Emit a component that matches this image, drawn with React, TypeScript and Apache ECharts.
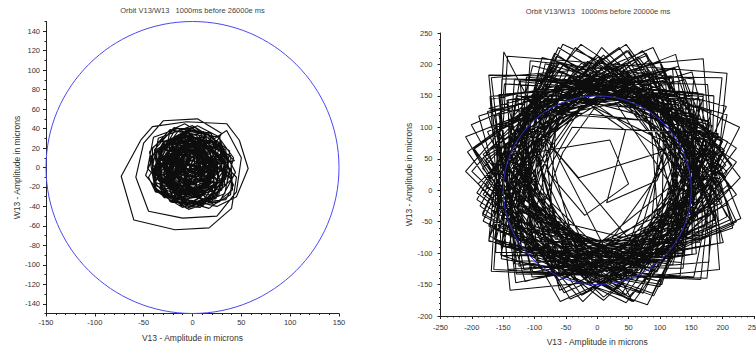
import React, { useEffect, useRef } from "react";
import * as echarts from "echarts";

const FONT = "'Liberation Sans', Arial, sans-serif";

const leftTitle = "Orbit V13/W13   1000ms before 26000e ms";
const rightTitle = "Orbit V13/W13   1000ms before 20000e ms";
const xName = "V13 - Amplitude in microns";
const yName = "W13 - Amplitude in microns";

// reference circle radius (microns), centred on the origin
const circleRadius = 150;

// W13 tick labels of the left plot (every 20) and its minor ticks in between
const leftYLabels = [-140, -120, -100, -80, -60, -40, -20, 0, 20, 40, 60, 80, 100, 120, 140];
const leftYMinor = [-150, -130, -110, -90, -70, -50, -30, -10, 10, 30, 50, 70, 90, 110, 130, 150];

// orbit samples V13/W13 (microns), 1000 ms before 26000e ms
const orbitEarly: number[][] = [
  [25, 0], [16, 19], [-9, 24], [-26, 10], [-23, -19], [0, -27], [22, -13], [21, 7], [4, 24], [-17, 20], [-29, -5], [-14, -24], [13, -22], [24, -4],
  [13, 27], [-10, 34], [-35, 16], [-31, -10], [-5, -27], [18, -14], [21, 15], [4, 29], [-20, 23], [-30, 5], [-18, -18], [3, -18], [17, 1], [10, 18],
  [-11, 15], [-25, 7], [-27, -14], [-12, -28], [11, -19], [21, 2], [2, 25], [-24, 25], [-38, -3], [-28, -28], [2, -31], [22, -14], [15, 16], [-8, 25],
  [-24, 10], [-28, -16], [-4, -38], [24, -32], [34, 1], [17, 21], [-12, 19], [-27, 0], [-16, -27], [6, -30], [28, -15], [24, 8], [2, 17], [-13, 8],
  [-17, -5], [-8, -13], [5, -9], [9, 0], [4, 11], [-8, 13], [-18, 3], [-15, -10], [0, -15], [11, -8], [10, 8], [-1, 14], [-13, 8], [-15, -2],
  [-5, -21], [20, -21], [37, 5], [27, 31], [-7, 38], [-26, 16], [-20, -15], [5, -25], [34, -12], [38, 17], [11, 37], [-14, 28], [-23, 0], [-8, -18],
  [3, -30], [18, -13], [9, 15], [-15, 24], [-38, 2], [-38, -24], [-10, -41], [13, -27], [18, 2], [0, 18], [-27, 12], [-35, -8], [-24, -31], [0, -34],
  [25, -40], [45, -30], [57, -1], [48, 28], [35, 45], [-6, 47], [-41, 42], [-53, 28], [-73, -9], [-60, -54], [-18, -64], [17, -62], [40, -42], [45, -10],
  [21, 15], [0, 29], [-30, 21], [-36, -5], [-15, -28], [10, -26], [25, 0], [13, 22], [-14, 25], [-31, 10], [-27, -19], [-5, -30], [19, -14], [19, 9],
  [3, 23], [-13, 18], [-21, -1], [-11, -16], [10, -14], [20, 0], [12, 18], [-3, 21], [-18, 9], [-17, -7], [0, -18], [15, -10], [18, 9], [7, 22],
  [-24, 24], [-40, -3], [-20, -34], [11, -39], [35, -9], [29, 23], [-8, 34], [-34, 16], [-33, -21], [-8, -40], [26, -26], [35, 3], [10, 31], [-19, 27],
  [-23, 2], [-18, -10], [-3, -12], [7, -3], [4, 12], [-8, 16], [-21, 10], [-23, -3], [-11, -15], [4, -12], [9, 5], [0, 16], [-16, 15], [-22, 4],
  [-15, -30], [8, -38], [33, -19], [32, 9], [3, 26], [-22, 13], [-25, -18], [-8, -38], [22, -31], [35, -8], [18, 18], [-7, 18], [-27, -3], [-18, -26],
  [-1, -24], [22, -10], [24, 24], [0, 43], [-35, 30], [-41, 0], [-18, -26], [10, -22], [28, 6], [17, 34], [-19, 41], [-39, 18], [-31, -15], [-6, -24],
  [17, -12], [21, 5], [4, 21], [-15, 16], [-25, -6], [-12, -23], [11, -21], [22, -6], [13, 13], [-3, 16], [-17, 4], [-14, -10], [0, -17], [11, -11],
  [11, 14], [-3, 29], [-30, 26], [-42, 5], [-26, -19], [-3, -19], [13, 1], [6, 20], [-16, 31], [-36, 19], [-38, -10], [-17, -25], [9, -13], [14, 10],
  [30, 35], [5, 50], [-30, 48], [-50, 25], [-58, -10], [-45, -45], [-10, -52], [25, -50], [45, -25], [50, 10], [35, 38],
  [14, 24], [-10, 28], [-30, 5], [-21, -18], [5, -30], [26, -15], [24, 14], [5, 26], [-19, 16], [-24, -4], [-8, -23], [11, -19], [20, 0], [13, 15],
  [-11, 35], [-42, 12], [-39, -22], [-4, -40], [27, -28], [34, 12], [10, 36], [-28, 27], [-40, -2], [-23, -35], [9, -38], [35, -9], [27, 24], [-10, 34],
  [-19, 14], [-21, -15], [0, -30], [30, -21], [37, 6], [20, 26], [-9, 24], [-21, 5], [-12, -20], [10, -27], [31, -10], [28, 13], [9, 25], [-13, 15],
  [-40, -1], [-21, -26], [7, -25], [25, 4], [13, 32], [-23, 39], [-44, 16], [-37, -19], [-10, -30], [19, -13], [21, 15], [-4, 36], [-29, 27], [-38, -1],
  [-5, -28], [18, -34], [40, -12], [33, 15], [2, 28], [-21, 11], [-20, -22], [2, -39], [33, -27], [38, -1], [18, 20], [-6, 17], [-18, -6], [-8, -25],
  [-1, -11], [11, -2], [11, 11], [-3, 20], [-17, 15], [-20, -3], [-9, -13], [7, -9], [12, 3], [6, 14], [-7, 15], [-14, 7], [-11, -4], [-3, -7],
  [20, -25], [24, 1], [0, 23], [-27, 15], [-38, -16], [-21, -36], [9, -36], [25, -15], [13, 13], [-11, 18], [-32, 0], [-32, -25], [-6, -42], [20, -32],
  [32, 13], [18, 36], [-15, 37], [-32, 14], [-19, -17], [7, -22], [30, -2], [30, 24], [2, 42], [-23, 29], [-26, -2], [-8, -18], [19, -12], [27, 8],
  [8, 13], [-9, 16], [-24, 0], [-20, -19], [2, -28], [19, -16], [18, 8], [2, 18], [-19, 10], [-23, -8], [-9, -23], [8, -21], [17, -4], [10, 10],
  [-23, 28], [-44, 10], [-38, -24], [-12, -37], [17, -19], [19, 9], [-6, 32], [-35, 26], [-48, -8], [-29, -31], [4, -30], [18, -7], [7, 21], [-17, 26],
  [-14, 18], [-14, -10], [5, -26], [35, -17], [42, 10], [26, 32], [-5, 30], [-18, 9], [-8, -17], [15, -26], [38, -6], [34, 18], [15, 31], [-10, 21],
  [0, -5], [-7, 9], [-21, 11], [-33, -2], [-29, -17], [-12, -22], [-1, -13], [-2, 3], [-13, 9], [-26, 4], [-30, -8], [-21, -20], [-7, -19], [-1, -5],
  [24, 2], [6, 6], [-7, -5], [-3, -25], [12, -33], [30, -23], [33, -5], [16, 9], [-1, 3], [-7, -15], [3, -28], [21, -28], [29, -15], [22, 0],
  [-11, 33], [-26, 22], [-25, 5], [-8, -5], [7, 2], [10, 22], [-2, 32], [-19, 28], [-24, 15], [-16, 2], [-3, 2], [6, 13], [2, 23], [-10, 27],
  [-8, 18], [-9, 2], [2, -7], [19, -2], [24, 13], [15, 27], [-5, 27], [-14, 13], [-7, -4], [8, -7], [20, 5], [18, 18], [5, 24], [-5, 18],
  [-22, -21], [-12, -33], [8, -30], [16, -15], [5, 2], [-12, 3], [-25, -12], [-21, -29], [-1, -37], [14, -26], [12, -5], [-2, 3], [-18, -4], [-21, -18],
  [-3, -9], [5, -9], [9, 0], [5, 6], [-3, 8], [-7, 2], [-5, -4], [0, -6], [5, -3], [7, 2], [1, 8], [-6, 7], [-10, -2], [-6, -10],
  [-12, -6], [-3, 5], [-8, 22], [-23, 27], [-39, 15], [-36, -2], [-20, -10], [-7, -3], [-5, 14], [-15, 22], [-30, 20], [-34, 8], [-27, -4], [-16, -4],
  [34, 5], [31, 19], [15, 26], [2, 17], [2, -1], [15, -9], [31, -3], [34, 11], [23, 22], [10, 21], [4, 8], [9, -3], [23, -5], [30, 4],
  [43, 7], [16, 31], [-19, 19], [-27, -12], [-2, -39], [28, -35], [44, -5], [28, 26], [-3, 31], [-29, 2], [-21, -31], [17, -42], [41, -23], [39, 12],
  [-15, 40], [-40, 31], [-46, -1], [-27, -22], [6, -15], [17, 10], [4, 33], [-20, 38], [-41, 20], [-41, -5], [-20, -20], [6, -8], [9, 19], [-6, 34],
  [-14, -1], [-24, -18], [-12, -39], [8, -41], [25, -22], [18, -3], [-4, 4], [-19, -7], [-21, -30], [-4, -43], [20, -35], [26, -13], [8, 5], [-11, 1],
  [-19, 22], [-10, 0], [9, -7], [29, 9], [28, 31], [5, 43], [-14, 34], [-18, 10], [-3, -3], [19, 1], [27, 18], [19, 35], [-3, 39], [-14, 25],
  [-41, -19], [-28, -28], [-10, -22], [-5, -7], [-18, 9], [-35, 7], [-45, -10], [-38, -25], [-18, -29], [-7, -17], [-11, 2], [-25, 7], [-39, -2], [-39, -15],
  [16, -35], [34, -33], [42, -18], [35, -3], [15, 1], [3, -11], [7, -31], [22, -38], [39, -28], [40, -12], [25, 0], [11, -5], [6, -21], [14, -32],
  [-20, 10], [15, -5], [-10, -15], [5, 18], [12, -15], [-18, -2], [8, 12], [-5, -20], [-12, 15], [18, 3], [-15, -10], [2, 20], [10, -10], [-20, 5],
  [-5, 7], [8, 16], [9, 35], [-8, 45], [-23, 38], [-27, 18], [-15, 7], [4, 11], [10, 28], [1, 40], [-17, 40], [-24, 28], [-18, 14], [-3, 12],
];

// orbit samples V13/W13 (microns), 1000 ms before 20000e ms
const orbitLate: number[][] = [
  [147, 61], [-60, 202], [-210, 30], [-30, -148], [149, -2], [2, 212], [-207, 61], [-61, -143], [139, -32],
  [120, 194], [-107, 91], [1, -132], [216, -60], [151, 188], [-92, 118], [-27, -121], [196, -84], [176, 168],
  [-123, 176], [-104, -82], [131, -78], [154, 177], [-107, 206], [-127, -59], [105, -96], [169, 149],
  [-85, 168], [-154, -103], [80, -182], [203, 63], [-55, 188], [-171, -73], [46, -179], [207, 29],
  [7, 227], [-142, 8], [40, -140], [215, 40], [72, 222], [-147, 73], [-23, -134], [209, -22], [100, 205],
  [-189, 118], [-115, -145], [140, -73], [80, 193], [-169, 145], [-142, -126], [129, -105], [109, 173], [-152, 177], [-162, -99],
  [136, -101], [153, 128], [-76, 151], [-109, -55], [113, -118], [177, 110], [-53, 168], [-120, -30], [86, -130], [180, 80],
  [-62, 227], [-183, -40], [45, -167], [222, 67], [-26, 232], [-200, 30], [10, -170], [222, -7], [46, 232], [-197, 67], [-25, -167], [207, -42], [78, 218],
  [-136, 105], [-68, -137], [158, -101], [139, 157], [-118, 131], [-94, -121], [137, -124], [162, 134], [-96, 153], [-114, -98],
  [-55, 60], [-5, 130], [45, 95], [15, -20], [95, 15], [120, 75], [100, 60], [-30, 20], [-90, 90],
  [88, -122], [156, 120], [-88, 182], [-147, -55], [60, -135], [169, 92], [-63, 204], [-169, -32], [30, -137], [182, 62],
  [19, 197], [-132, -12], [50, -170], [228, 20], [83, 207], [-132, 52], [-12, -149], [229, -45], [140, 176], [-110, 113],
  [-125, -121], [99, -78], [81, 173], [-171, 149], [-152, -104], [81, -103], [107, 154], [-148, 169], [-173, -81], [54, -119], [125, 128],
  [-73, 179], [-140, -85], [88, -164], [208, 77], [-43, 198], [-158, -57], [58, -177], [222, 45], [-9, 202], [-162, -23],
  [15, -135], [195, 40], [47, 222], [-162, 71], [-45, -125], [184, -22], [78, 214], [-141, 130], [-78, -120], [153, -76],
  [129, 173], [-157, 152], [-129, -133], [132, -137], [161, 155], [-132, 177], [-153, -109], [100, -153], [182, 125], [-103, 198], [-173, -80], [67, -163], [193, 90],
  [-40, 100], [-80, 30], [-20, -40], [50, 10], [20, 80], [-100, 60],
  [-125, -23], [65, -137], [202, 65], [5, 207], [-135, 35], [35, -140], [212, 4], [65, 207], [-132, 65], [-25, -130], [191, -55],
  [83, 190], [-175, 125], [-103, -130], [136, -92], [115, 179], [-156, 152], [-129, -112], [112, -116], [139, 155], [-132, 176], [-152, -89], [85, -135],
  [206, 133], [-88, 211], [-162, -80], [90, -168], [227, 100], [-55, 232], [-182, -49], [56, -177],
  [-149, 220], [-169, -129], [175, -140], [207, 186], [-143, 213], [-165, -126], [165, -142], [199, 179], [-173, 183], [-139, -159], [195, -126], [169, 209], [-169, 179], [-130, -147],
  [201, -83], [125, 216], [-210, 85], [-59, -177], [222, -50], [89, 227], [-201, 104], [-53, -163], [212, -47], [50, 222], [-177, 59], [-18, -162], [202, -8], [46, 202],
  [165, 30], [10, 180], [-143, 57], [-16, -118], [156, -23], [65, 180], [-124, 108], [-65, -100], [129, -70], [113, 153], [-90, 149], [-105, -66], [85, -100], [144, 108], [-45, 180], [-136, -23], [36, -118], [163, 57],
  [25, 185], [-147, 45], [-5, -152], [189, -45], [87, 184], [-139, 75], [-60, -132], [177, -73], [141, 153], [-111, 129], [-107, -96], [134, -115], [179, 104], [-65, 171], [-137, -44], [83, -143],
  [140, 91], [-73, 195], [-178, 6], [13, -123], [150, 35], [-15, 205], [-183, 35], [-44, -128], [150, 6], [44, 197], [-175, 93], [-71, -120], [128, -48], [70, 182], [-144, 143], [-121, -91],
  [163, -83], [146, 146], [-63, 143], [-79, -80], [120, -119], [183, 103], [-43, 163], [-110, -35], [95, -130], [200, 78], [11, 185], [-118, -8], [40, -135], [205, 20], [40, 185], [-118, 48],
  [-60, -159], [188, -47], [105, 193], [-164, 118], [-117, -126], [151, -102], [154, 145], [-124, 173], [-164, -78], [100, -145], [193, 88], [-65, 213], [-192, -15], [38, -167],
  [168, 61], [-5, 178], [-130, 35], [20, -110], [168, 9], [46, 183], [-123, 60], [-28, -97], [156, -15], [95, 165], [-110, 110], [-53, -91], [131, -58], [116, 150],
  [-142, 144], [-138, -91], [116, -113], [160, 118], [-93, 185], [-156, -65], [62, -144], [174, 88], [-65, 204], [-182, -7], [31, -152], [185, 25], [0, 215], [-182, 57],
  [-28, -130], [177, -55], [118, 182], [-100, 139], [-76, -96], [139, -100], [164, 143], [-55, 177], [-113, -53], [86, -125], [190, 88], [0, 199], [-135, 1], [30, -135],
  [140, 20], [9, 183], [-178, 48], [-73, -126], [130, -35], [63, 163], [-163, 103], [-123, -103], [103, -83], [106, 126], [-129, 150], [-163, -63], [60, -119], [135, 76],
  [6, 207], [-137, 10], [35, -130], [205, 40], [65, 212], [-134, 70], [-23, -120], [199, -20], [124, 194], [-117, 128], [-50, -107], [167, -71], [169, 153], [-78, 174],
  [-136, -112], [103, -150], [179, 108], [-90, 183], [-173, -57], [73, -164], [198, 78], [-60, 203], [-187, -25], [10, -175], [210, 10], [10, 215], [-190, 10], [-23, -177],
  [158, 1], [44, 163], [-107, 71], [-26, -102], [141, -45], [93, 151], [-87, 115], [-67, -78], [110, -82], [131, 118], [-53, 151], [-101, -45], [66, -102], [152, 73],
  [-68, 218], [-183, -37], [33, -157], [197, 65], [-35, 227], [-192, -4], [0, -155], [197, -5], [35, 227], [-197, 65], [-63, -144], [183, -37], [100, 203], [-173, 130],
  [86, 110], [-94, 130], [-123, -35], [53, -78], [112, 75], [-56, 157], [-132, -15], [12, -93], [118, 53], [-33, 158], [-140, 30], [-10, -95], [118, 7], [13, 163],
  [-182, 52], [-43, -173], [218, -55], [130, 197], [-157, 120], [-104, -138], [178, -114], [186, 150], [-113, 180], [-132, -117], [154, -138], [207, 120], [-83, 201], [-153, -88],
  [61, -120], [172, 65], [-25, 202], [-167, 35], [5, -130], [172, 6], [35, 202], [-157, 94], [-51, -120], [152, -50], [93, 187], [-127, 146], [-101, -91], [113, -94],
  [149, 98], [-63, 154], [-126, -31], [66, -121], [173, 48], [-12, 173], [-138, -7], [15, -130], [170, 20], [43, 178], [-138, 47], [-36, -121], [161, -33], [70, 170],
];

const AXIS_COLOR = "#222";
const TEXT_COLOR = "#333";

function valueAxis(gridIndex: number, min: number, max: number, extra: Record<string, unknown>) {
  return {
    type: "value",
    gridIndex,
    min,
    max,
    axisLine: { show: true, onZero: false, lineStyle: { color: AXIS_COLOR, width: 1 } },
    axisTick: { show: true, inside: false, length: 3, lineStyle: { color: AXIS_COLOR, width: 1 } },
    splitLine: { show: false },
    minorSplitLine: { show: false },
    axisLabel: { fontSize: 7.5, color: TEXT_COLOR, fontFamily: FONT, hideOverlap: false, showMinLabel: true, showMaxLabel: true },
    nameLocation: "middle",
    nameTextStyle: { fontSize: 8.5, color: TEXT_COLOR, fontFamily: FONT },
    ...extra,
  };
}

function circleSeries(xAxisIndex: number, yAxisIndex: number, color: string) {
  return {
    type: "custom",
    xAxisIndex,
    yAxisIndex,
    silent: true,
    z: 5,
    data: [[0, 0, circleRadius]],
    renderItem: (_params: unknown, api: any) => {
      const c = api.coord([api.value(0), api.value(1)]);
      const s = api.size([api.value(2), api.value(2)]);
      return {
        type: "ellipse",
        shape: { cx: c[0], cy: c[1], rx: s[0], ry: s[1] },
        style: { fill: "none", stroke: color, lineWidth: 1 },
      };
    },
  };
}

function orbitSeries(xAxisIndex: number, yAxisIndex: number, data: number[][], width: number) {
  return {
    type: "line",
    xAxisIndex,
    yAxisIndex,
    data,
    showSymbol: false,
    symbol: "none",
    silent: true,
    z: 2,
    lineStyle: { color: "#0d0d0d", width },
  };
}

export default function App() {
  const ref = useRef<HTMLDivElement>(null);

  useEffect(() => {
    document.body.style.margin = "0";
    document.body.style.overflow = "hidden";
    if (!ref.current) return;
    const chart = echarts.init(ref.current, undefined, { renderer: "svg" });
    chart.setOption({
      animation: false,
      backgroundColor: "#ffffff",
      textStyle: { fontFamily: FONT },
      graphic: [
        {
          type: "text",
          x: 192.5,
          y: 10,
          style: { text: leftTitle, textAlign: "center", textVerticalAlign: "middle", fontSize: 7.5, fill: "#444", fontFamily: FONT },
        },
        {
          type: "text",
          x: 598,
          y: 11,
          style: { text: rightTitle, textAlign: "center", textVerticalAlign: "middle", fontSize: 7.5, fill: "#444", fontFamily: FONT },
        },
      ],
      grid: [
        { left: 46, top: 21.5, width: 293, height: 292, outerBoundsMode: "none", containLabel: false },
        { left: 440.5, top: 33, width: 313.5, height: 283, outerBoundsMode: "none", containLabel: false },
      ],
      xAxis: [
        valueAxis(0, -150, 150, {
          interval: 50,
          minorTick: { show: true, splitNumber: 5, length: 1.5, lineStyle: { color: AXIS_COLOR } },
          axisLabel: { fontSize: 7.5, color: TEXT_COLOR, fontFamily: FONT, margin: 5, hideOverlap: false, showMinLabel: true, showMaxLabel: true },
          name: xName,
          nameGap: 20,
        }),
        valueAxis(1, -250, 250, {
          interval: 50,
          minorTick: { show: true, splitNumber: 5, length: 1.5, lineStyle: { color: AXIS_COLOR } },
          axisLabel: { fontSize: 7.5, color: TEXT_COLOR, fontFamily: FONT, margin: 7, hideOverlap: false, showMinLabel: true, showMaxLabel: true },
          name: xName,
          nameGap: 21,
        }),
      ],
      yAxis: [
        valueAxis(0, -150, 150, {
          position: "left",
          axisTick: { show: true, length: 3, customValues: leftYLabels, lineStyle: { color: AXIS_COLOR } },
          axisLabel: { fontSize: 7.5, color: TEXT_COLOR, fontFamily: FONT, margin: 6, customValues: leftYLabels },
          name: yName,
          nameRotate: 90,
          nameGap: 25,
        }),
        valueAxis(1, -200, 250, {
          position: "left",
          interval: 50,
          minorTick: { show: true, splitNumber: 5, length: 1.5, lineStyle: { color: AXIS_COLOR } },
          axisLabel: { fontSize: 7.5, color: TEXT_COLOR, fontFamily: FONT, margin: 8, showMinLabel: true, showMaxLabel: true },
          name: yName,
          nameRotate: 90,
          nameGap: 25,
        }),
        // minor ticks of the left W13 axis
        valueAxis(0, -150, 150, {
          position: "left",
          offset: 0,
          axisLine: { show: false, onZero: false },
          axisTick: { show: true, length: 1.5, customValues: leftYMinor, lineStyle: { color: AXIS_COLOR } },
          axisLabel: { show: false },
        }),
      ],
      series: [
        orbitSeries(0, 0, orbitEarly, 1.15),
        circleSeries(0, 0, "#4a4af2"),
        orbitSeries(1, 1, orbitLate, 1.05),
        circleSeries(1, 1, "#2b2bc0"),
      ],
    });
    return () => chart.dispose();
  }, []);

  return <div ref={ref} style={{ width: 756, height: 347 }} />;
}
